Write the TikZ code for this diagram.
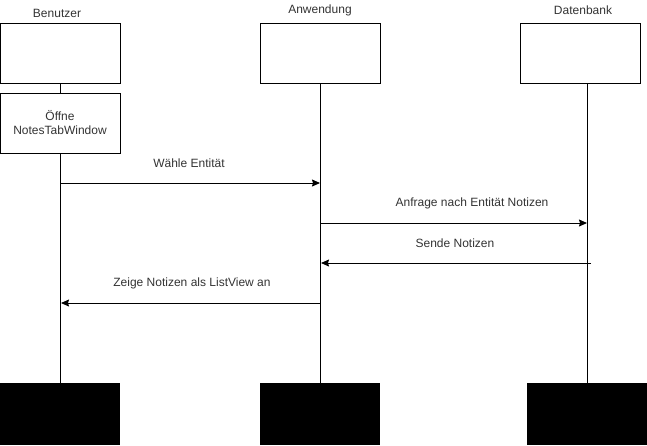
\documentclass[tikz,border=0pt]{standalone}
\usepackage{fontspec}
\setmainfont{Liberation Sans}
\usetikzlibrary{arrows.meta}

\begin{document}
\begin{tikzpicture}[x=1pt, y=-1pt,
	box/.style = {draw, line width=1pt, minimum width=120pt, minimum height=60pt,
		align=center, inner sep=0pt},
	endbox/.style = {fill=black, minimum width=120pt, minimum height=62pt, inner sep=0pt},
	lbl/.style = {text=black!80, font=\fontsize{12}{14}\selectfont, inner sep=0pt},
	msg/.style = {line width=1pt, -{Stealth[length=8pt, width=7pt, inset=1pt]}}]
	
	\useasboundingbox (0,0) rectangle (647,445);
	
	\node [lbl] (benT) at (57,13){Benutzer};
	\node [lbl] (anwT) at (320,10){Anwendung};
	\node [lbl] (datT) at (583,10){Datenbank};
	
	\node [box] (ben) at (60,53){};
	\node [box] (anw) at (320,53){};
	\node [box] (dat) at (580,53){};
	\node [box, lbl,
		   minimum width = 120pt,
		   minimum height = 60pt] (open) at (60,123){Öffne\\NotesTabWindow};
	
	\node [endbox] (benE) at (60,414){};
	\node [endbox] (anwE) at (320,414){};
	\node [endbox] (datE) at (587,414){};
	
	\draw[line width=1pt] (ben) -- (open);
	\draw[line width=1pt] (open) -- (benE);
	\draw[line width=1pt] (anw) -- (anwE);
	\draw[line width=1pt] (datE.north |- dat.south) -- (datE);
	
	\coordinate (m1a) at (60,183);
	\coordinate (m1b) at (320,183);
	\coordinate (m2a) at (320,223);
	\coordinate (m2b) at (587,223);
	\coordinate (m3a) at (591,263);
	\coordinate (m3b) at (321,263);
	\coordinate (m4a) at (320,303);
	\coordinate (m4b) at (61,303);
	
	\draw[msg] (m1a) -- (m1b);
	\draw[msg] (m2a) -- (m2b);
	\draw[msg] (m3a) -- (m3b);
	\draw[msg] (m4a) -- (m4b);
	
	\node [lbl] (l1) at (189,163){Wähle Entität};
	\node [lbl] (l2) at (472,203){Anfrage nach Entität Notizen};
	\node [lbl] (l3) at (455,243){Sende Notizen};
	\node [lbl] (l4) at (192,283){Zeige Notizen als ListView an};
	
\end{tikzpicture}
\end{document}
